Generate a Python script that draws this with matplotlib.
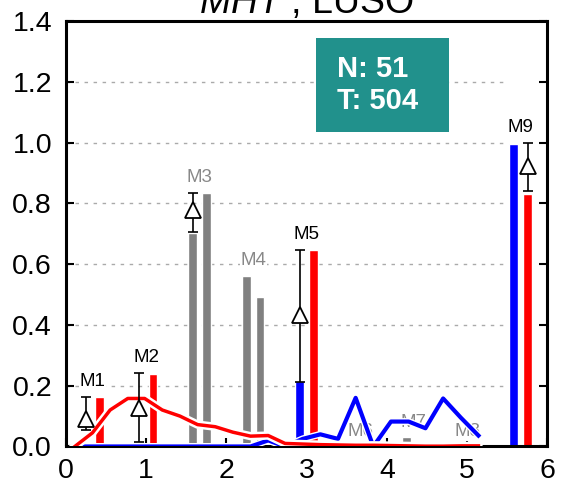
import matplotlib
matplotlib.use('Agg')
import matplotlib.pyplot as plt
import matplotlib.patheffects as pe
import numpy as np

plt.rcParams['font.family'] = ['Liberation Sans', 'DejaVu Sans']
plt.rcParams['mathtext.fontset'] = 'custom'
plt.rcParams['mathtext.it'] = 'Liberation Sans:italic'
plt.rcParams['mathtext.rm'] = 'Liberation Sans'

# groups M1..M9
labels = ['M1', 'M2', 'M3', 'M4', 'M5', 'M6', 'M7', 'M8', 'M9']
left_vals = [0.0, 0.0, 0.703, 0.561, 0.216, 0.0, 0.03, 0.0, 0.995]
right_vals = [0.163, 0.239, 0.834, 0.492, 0.647, 0.0, 0.0, 0.0, 0.831]
is_gray = [False, False, True, True, False, True, True, True, False]

# triangle markers with range bars
tri_mid = [0.09, 0.127, 0.777, np.nan, 0.433, np.nan, np.nan, np.nan, 0.923]
tri_lo = [0.054, 0.015, 0.706, np.nan, 0.212, np.nan, np.nan, np.nan, 0.84]
tri_hi = [0.163, 0.242, 0.834, np.nan, 0.647, np.nan, np.nan, np.nan, 0.999]

# curves
curve_x = [0.11, 0.33, 0.55, 0.77, 0.98, 1.20, 1.42, 1.64, 1.86, 2.08, 2.30, 2.52,
           2.73, 2.95, 3.17, 3.39, 3.61, 3.83, 4.05, 4.27, 4.48, 4.70, 4.92, 5.14]
red_curve = [0.0, 0.045, 0.12, 0.158, 0.158, 0.12, 0.10, 0.072, 0.065, 0.047, 0.034, 0.036,
             0.01, 0.008, 0.006, 0.005, 0.004, 0.004, 0.003, 0.002, 0.001, 0.001, 0.002, 0.002]
blue_curve = [0.0, 0.0, 0.0, 0.0, 0.0, 0.0, 0.0, 0.0, 0.0, 0.0, 0.0, 0.02,
              0.0, 0.025, 0.04, 0.025, 0.16, 0.0, 0.082, 0.082, 0.06, 0.158, 0.095, 0.036]

n_val = 51
t_val = 504

fig = plt.figure(figsize=(5.62, 4.87), dpi=100)
ax = fig.add_axes([0.1174, 0.0832, 0.8567, 0.8737])

centers = np.arange(len(labels)) * 2 / 3 + 1 / 3
off = 0.085
w = 0.11

# grid
for gy in [0.2, 0.4, 0.6, 0.8, 1.0, 1.2]:
    ax.plot([0, 5.5], [gy, gy], color='#aaaaaa', lw=1, ls=(0, (2.5, 4)), zorder=0.5)

for i, c in enumerate(centers):
    lc = '#808080' if is_gray[i] else 'blue'
    rc = '#808080' if is_gray[i] else 'red'
    if left_vals[i] > 0:
        ax.bar(c - off, left_vals[i], width=w, color=lc, edgecolor='white', lw=1, zorder=2)
    if right_vals[i] > 0:
        ax.bar(c + off, right_vals[i], width=w, color=rc, edgecolor='white', lw=1, zorder=2)
    if not np.isnan(tri_mid[i]):
        tx = c - off if left_vals[i] <= right_vals[i] else c + off
        ax.errorbar(tx, tri_mid[i], yerr=[[tri_mid[i] - tri_lo[i]], [tri_hi[i] - tri_mid[i]]],
                    fmt='none', ecolor='black', elinewidth=1.2, capsize=3.5, capthick=1.2, zorder=5)
        ax.plot(tx, tri_mid[i], marker='^', ms=11, mfc='white', mec='black', mew=1.3, zorder=6)
    top = np.nanmax([left_vals[i], right_vals[i], tri_hi[i]])
    ax.text(c, top + 0.035, labels[i], ha='center', va='baseline', fontsize=13.5,
            color='#888888' if is_gray[i] else 'black', zorder=2.5,
            bbox=dict(facecolor='white', edgecolor='none', pad=0.5))

ax.plot(curve_x, blue_curve, color='blue', lw=3, zorder=3,
        path_effects=[pe.Stroke(linewidth=5, foreground='white'), pe.Normal()])
ax.plot(curve_x, red_curve, color='red', lw=2.5, zorder=4,
        path_effects=[pe.Stroke(linewidth=6, foreground='white'), pe.Normal()])

# N / T box
ax.add_patch(plt.Rectangle((3.12, 1.034), 1.65, 0.31, facecolor='#21918c', edgecolor='none', zorder=7))
ax.text(3.88, 1.19, 'N: %d\nT: %d' % (n_val, t_val), ha='center', va='center', multialignment='left',
        fontsize=21, fontweight='bold', color='white', linespacing=1.2, zorder=8)

ax.set_xlim(0, 6)
ax.set_ylim(0, 1.4)
ax.set_xticks(range(7))
ax.set_yticks(np.arange(0, 1.41, 0.2))
ax.set_yticklabels(['%.1f' % v for v in np.arange(0, 1.41, 0.2)])
ax.tick_params(axis='both', direction='in', length=6, width=1.5, labelsize=20.5)
ax.tick_params(axis='y', right=True, pad=10)
ax.tick_params(axis='x', pad=8)
for s in ax.spines.values():
    s.set_linewidth(2.2)

ax.set_title('$MHT$ , LUSO', fontsize=27, pad=4.5)

fig.savefig('out.png', dpi=100)
